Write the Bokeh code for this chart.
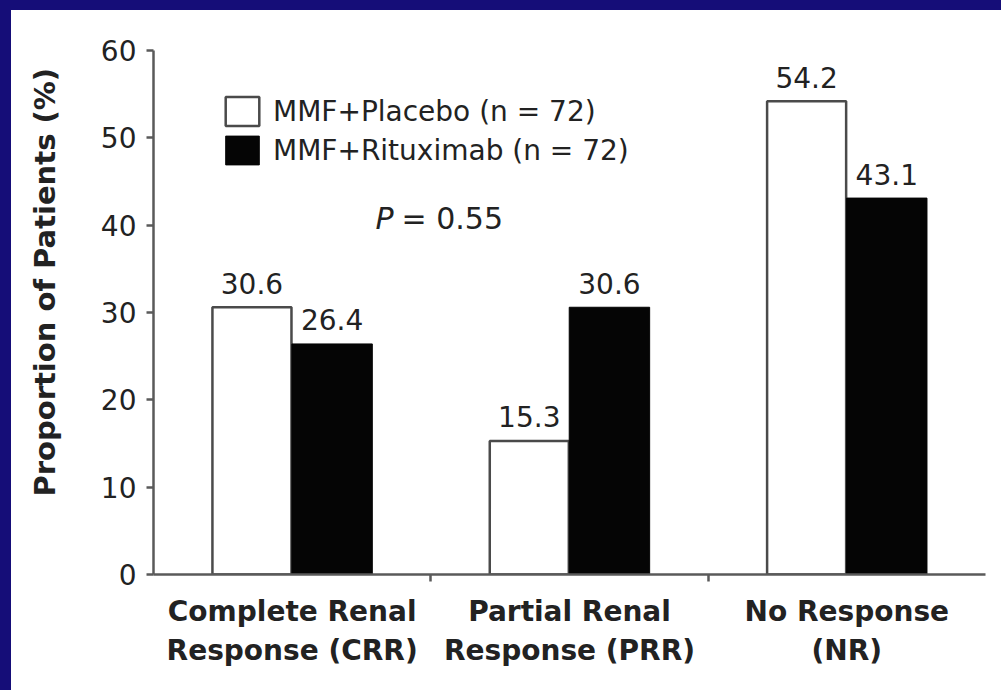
import numpy as np
from bokeh.plotting import figure
from bokeh.layouts import row, column
from bokeh.models import FixedTicker, Legend, LegendItem, Label, Range1d, ColumnDataSource, Div
from bokeh.core.properties import value
from bokeh.embed import file_html
from bokeh.resources import INLINE

# ---- data ----
categories = ["Complete Renal\nResponse (CRR)", "Partial Renal\nResponse (PRR)", "No Response\n(NR)"]
placebo = [30.6, 15.3, 54.2]
rituximab = [26.4, 30.6, 43.1]
series_names = ["MMF+Placebo (n = 72)", "MMF+Rituximab (n = 72)"]
y_ticks = [0, 10, 20, 30, 40, 50, 60]
y_title = "Proportion of Patients (%)"
p_symbol = "P"
p_value = "= 0.55"

FONT = "DejaVu Sans"
TXT = "#222222"
AX = "#5a5a5a"
NAVY = "#150d78"

idx = np.arange(len(categories))
src_p = ColumnDataSource(dict(x=idx + 0.355, top=placebo, lab=[f"{v:.1f}" for v in placebo]))
src_r = ColumnDataSource(dict(x=idx + 0.644, top=rituximab, lab=[f"{v:.1f}" for v in rituximab]))

p = figure(width=990, height=680, output_backend="svg", toolbar_location=None,
           x_range=Range1d(0, 3), y_range=Range1d(0, 60),
           min_border_left=142, min_border_right=16, min_border_top=40, min_border_bottom=116)
p.outline_line_color = None
p.xgrid.visible = False
p.ygrid.visible = False
p.background_fill_color = "white"
p.border_fill_color = "white"

r1 = p.vbar(x="x", top="top", width=0.285, source=src_p, fill_color="white",
            line_color="#4a4a4a", line_width=2.5)
r2 = p.vbar(x="x", top="top", width=0.29, source=src_r, fill_color="#050505",
            line_color="#050505", line_width=1)

for s in (src_p, src_r):
    p.text(x="x", y="top", text="lab", source=s, text_align="center", text_baseline="alphabetic",
           y_offset=-24, text_font=value(FONT), text_font_size="28px", text_color=TXT)

# x axis
xa = p.xaxis[0]
xa.ticker = FixedTicker(ticks=list(idx + 0.5), minor_ticks=list(idx[1:]))
xa.major_label_overrides = {float(i + 0.5): c for i, c in enumerate(categories)}
xa.major_tick_out = 0
xa.major_tick_in = 0
xa.minor_tick_out = 7
xa.minor_tick_in = 0
xa.minor_tick_line_color = AX
xa.minor_tick_line_width = 2.5
xa.axis_line_color = AX
xa.axis_line_width = 2.5
xa.major_label_text_font = FONT
xa.major_label_text_font_style = "bold"
xa.major_label_text_font_size = "28px"
xa.major_label_text_color = TXT
xa.major_label_standoff = 13

# y axis
ya = p.yaxis[0]
ya.ticker = FixedTicker(ticks=y_ticks)
ya.major_tick_out = 7
ya.major_tick_in = 0
ya.minor_tick_out = 0
ya.minor_tick_in = 0
ya.major_tick_line_color = AX
ya.major_tick_line_width = 2.5
ya.axis_line_color = AX
ya.axis_line_width = 2.5
ya.major_label_text_font = FONT
ya.major_label_text_font_size = "28px"
ya.major_label_text_color = TXT
ya.major_label_standoff = 10
# leading no-break spaces lift the title above the frame centre, as in the original
ya.axis_label = "\u00a0" * 6 + y_title
ya.axis_label_text_font = FONT
ya.axis_label_text_font_style = "bold"
ya.axis_label_text_font_size = "29px"
ya.axis_label_text_color = TXT
ya.axis_label_standoff = 36

# P value
p.add_layout(Label(x=222, y=356, x_units="screen", y_units="screen", text=p_symbol,
                   text_align="left", text_baseline="alphabetic", text_font=FONT,
                   text_font_style="italic", text_font_size="30px", text_color=TXT))
p.add_layout(Label(x=248, y=356, x_units="screen", y_units="screen", text=p_value,
                   text_align="left", text_baseline="alphabetic", text_font=FONT,
                   text_font_size="30px", text_color=TXT))

legend = Legend(items=[LegendItem(label=series_names[0], renderers=[r1]),
                       LegendItem(label=series_names[1], renderers=[r2])],
                location=(68, 406), glyph_width=42, glyph_height=36, spacing=3,
                padding=0, margin=0, label_standoff=10, border_line_color=None,
                background_fill_alpha=0, label_text_font=FONT, label_text_font_size="28px",
                label_text_color=TXT)
p.add_layout(legend)

# navy frame strips (top and left) of the original slide
left_strip = Div(width=11, height=690, margin=0, styles={"background-color": NAVY})
top_strip = Div(width=990, height=10, margin=0, styles={"background-color": NAVY})
page = row(left_strip, column(top_strip, p, spacing=0), spacing=0)

open("out.html", "w").write(file_html(page, INLINE))
